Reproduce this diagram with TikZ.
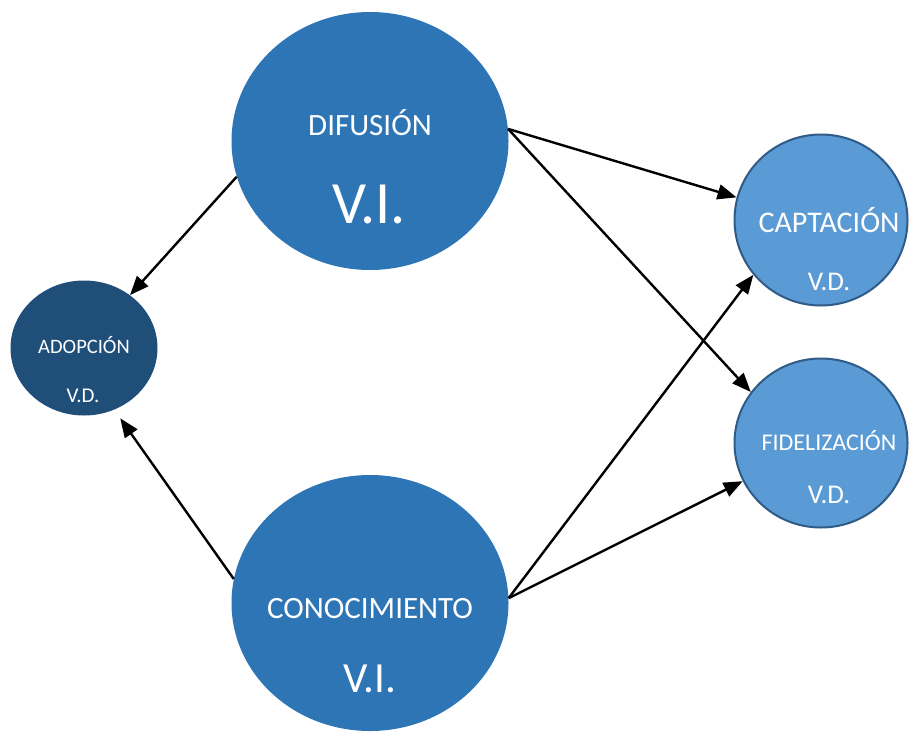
\documentclass[tikz,border=0pt]{standalone}
\usepackage{fontspec}
\setmainfont{Carlito}
\usetikzlibrary{shapes.geometric,arrows.meta}
\definecolor{vimain}{HTML}{2E75B6}
\definecolor{vdlight}{HTML}{5B9BD5}
\definecolor{vdedge}{HTML}{2F5B87}
\definecolor{vddark}{HTML}{1F4E79}
\tikzset{
  indep/.style={ellipse,fill=vimain,inner sep=0pt},
  dep/.style={ellipse,fill=vdlight,draw=vdedge,line width=2pt,inner sep=0pt},
  depdark/.style={ellipse,fill=vddark,inner sep=0pt},
  txt/.style={text=white,anchor=base,inner sep=0pt},
  arr/.style={-{Triangle[length=19pt,width=15pt]},line width=2.4pt}
}

\begin{document}
\begin{tikzpicture}[x=1pt,y=-1pt]
  \useasboundingbox (0,0) rectangle (909,731);
  % the variables
  \node[indep,minimum width=277pt,minimum height=258pt] (dif) at (370,141) {};
  \node[indep,minimum width=277pt,minimum height=256pt] (con) at (370,603) {};
  \node[depdark,minimum width=147pt,minimum height=135pt] (ado) at (84,348) {};
  \node[dep,minimum width=173pt,minimum height=171pt] (cap) at (821,220) {};
  \node[dep,minimum width=173pt,minimum height=169pt] (fid) at (821,443) {};

  % texts
  \node[txt,font=\fontsize{31}{31}\selectfont] at (370,135) {DIFUSIÓN};
  \node[txt,font=\fontsize{60}{60}\selectfont] at (369,223) {V.I.};
  \node[txt,font=\fontsize{31}{31}\selectfont] at (370,618) {CONOCIMIENTO};
  \node[txt,font=\fontsize{43}{43}\selectfont] at (370,692) {V.I.};
  \node[txt,font=\fontsize{20.5}{20.5}\selectfont] at (84,353) {ADOPCIÓN};
  \node[txt,font=\fontsize{21}{21}\selectfont] at (83,402) {V.D.};
  \node[txt,font=\fontsize{30}{30}\selectfont] at (829,232) {CAPTACIÓN};
  \node[txt,font=\fontsize{27}{27}\selectfont] at (829,290) {V.D.};
  \node[txt,font=\fontsize{24}{24}\selectfont] at (829,450) {FIDELIZACIÓN};
  \node[txt,font=\fontsize{27}{27}\selectfont] at (829,503) {V.D.};

  % arrows
  \draw[arr] (dif.195) -- (ado.49);
  \draw[arr] (con.170) -- ([shift={(5pt,-9pt)}]ado.-63);
  \draw[arr] (dif.5) -- (cap.165);
  \draw[arr] (dif.5) -- (fid.144);
  \draw[arr] (con.2) -- (cap.219);
  \draw[arr] (con.2) -- (fid.206);
\end{tikzpicture}
\end{document}
